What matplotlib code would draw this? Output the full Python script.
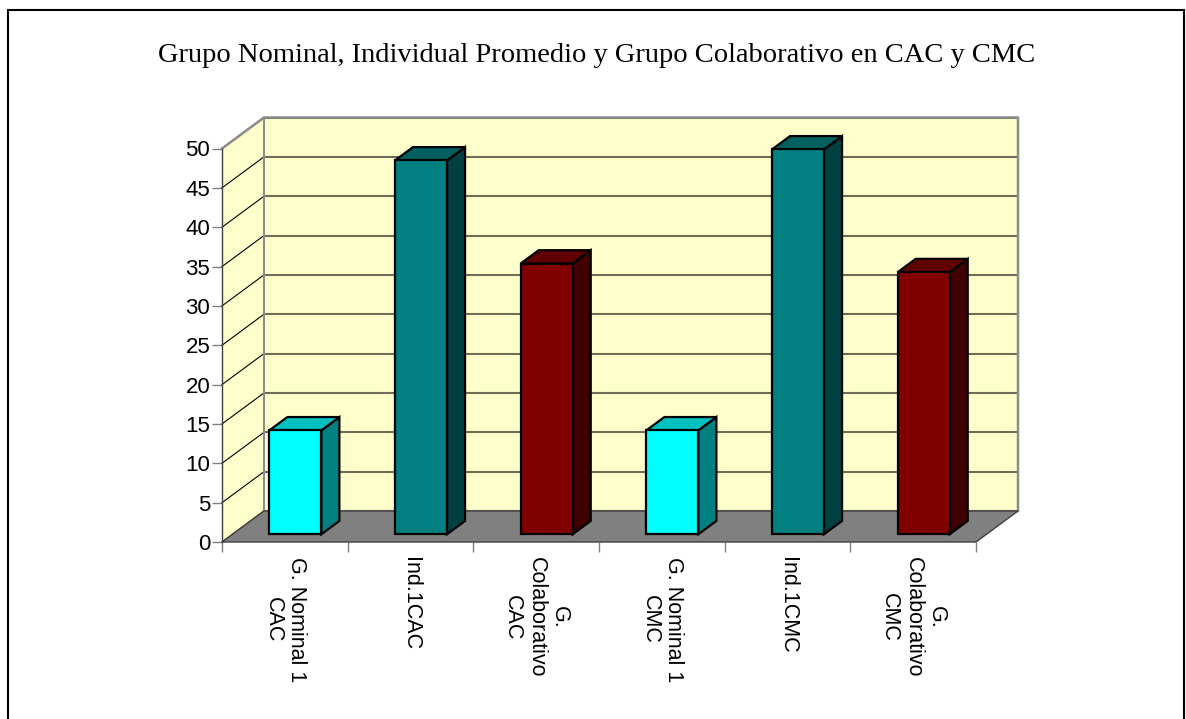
import numpy as np
import matplotlib.pyplot as plt
from matplotlib.patches import Polygon, Rectangle

# datos del grafico
categorias = ['G. Nominal 1\nCAC', 'Ind.1CAC', 'G.\nColaborativo\nCAC',
              'G. Nominal 1\nCMC', 'Ind.1CMC', 'G.\nColaborativo\nCMC']
valores = [13.2, 47.5, 34.4, 13.2, 48.9, 33.3]
titulo = 'Grupo Nominal, Individual Promedio y Grupo Colaborativo en CAC y CMC'
yticks = list(range(0, 51, 5))

# colores de las barras: frente, arriba, lado
col_frente = ['#00FFFF', '#008080', '#800000', '#00FFFF', '#008080', '#800000']
col_arriba = ['#00C0C0', '#006060', '#600000', '#00C0C0', '#006060', '#600000']
col_lado = ['#008080', '#004040', '#400000', '#008080', '#004040', '#400000']

W, H = 1186, 719
fig = plt.figure(figsize=(W / 100, H / 100), dpi=100)

# ejes = plano frontal del grafico 3D
x_izq, x_der, y_cero, y_top = 222, 976, 542, 148.5
ax = fig.add_axes([x_izq / W, 1 - y_cero / H, (x_der - x_izq) / W, (y_cero - y_top) / H])
n = len(categorias)
ax.set_xlim(0, n)
ax.set_ylim(0, 50)

px_cat = (x_der - x_izq) / n
px_val = (y_cero - y_top) / 50
DX = 42 / px_cat   # profundidad en unidades de categoria
DY = 31 / px_val   # profundidad en unidades de valor

# paredes
pared = '#FFFFCC'
ax.add_patch(Polygon([(0, 0), (0, 50), (DX, 50 + DY), (DX, DY)], closed=True,
                     fc=pared, ec='none', clip_on=False, zorder=1))
ax.add_patch(Polygon([(DX, DY), (n + DX, DY), (n + DX, 50 + DY), (DX, 50 + DY)], closed=True,
                     fc=pared, ec='none', clip_on=False, zorder=1))

# lineas de cuadricula
for v in yticks:
    ax.plot([DX, n + DX], [v + DY, v + DY], color='#6e6e58', lw=1.5, clip_on=False, zorder=2)
    ax.plot([0, DX], [v, v + DY], color='black', lw=0.8, clip_on=False, zorder=2)

# bordes de las paredes
ax.plot([0, DX, n + DX, n + DX], [50, 50 + DY, 50 + DY, DY], color='#8c8c8c', lw=1.8,
        clip_on=False, zorder=2)
ax.plot([DX, DX], [DY, 50 + DY], color='#8c8c8c', lw=1.5, clip_on=False, zorder=2)

# piso
ax.add_patch(Polygon([(0, 0), (n, 0), (n + DX, DY), (DX, DY)], closed=True,
                     fc='#808080', ec='#404040', lw=1, clip_on=False, zorder=3))

# barras 3D
f0, fd = 0.25, 0.43
ancho = 52 / px_cat
for i, v in enumerate(valores):
    x0 = i + 0.5 - ancho / 2 + f0 * DX
    x1 = x0 + ancho
    yb = f0 * DY
    yt = v + f0 * DY
    ddx, ddy = fd * DX, fd * DY
    frente = [(x0, yb), (x1, yb), (x1, yt), (x0, yt)]
    arriba = [(x0, yt), (x1, yt), (x1 + ddx, yt + ddy), (x0 + ddx, yt + ddy)]
    lado = [(x1, yb), (x1 + ddx, yb + ddy), (x1 + ddx, yt + ddy), (x1, yt)]
    for pts, c in [(lado, col_lado[i]), (arriba, col_arriba[i]), (frente, col_frente[i])]:
        ax.add_patch(Polygon(pts, closed=True, fc=c, ec='black', lw=1.6,
                             joinstyle='miter', clip_on=False, zorder=4 + i))

# ejes
for s in ['top', 'right', 'bottom']:
    ax.spines[s].set_visible(False)
ax.spines['left'].set_color('#404040')
ax.spines['left'].set_linewidth(1)
ax.spines['left'].set_zorder(3)
ax.set_yticks(yticks)
ax.tick_params(axis='y', length=7, width=1, color='#808080', pad=1.5, labelsize=16)
ax.set_xticks(range(n + 1))
ax.set_xticklabels([''] * (n + 1))
ax.tick_params(axis='x', which='major', length=7, width=1, color='#808080')
ax.set_xticks(np.arange(n) + 0.5, categorias, minor=True)
ax.tick_params(axis='x', which='minor', length=0, pad=11, labelsize=15.5)
for lab in ax.get_xticklabels(minor=True):
    lab.set_rotation(-90)
    lab.set_multialignment('center')
    lab.set_linespacing(1.15)
    lab.set_family('Liberation Sans')
    lab.set_va('top')
    lab.set_ha('center')
for lab in ax.get_yticklabels():
    lab.set_family('Liberation Sans')
ax.set_facecolor('none')

# titulo
fig.text(597 / W, 1 - 55 / H, titulo, ha='center', va='center', fontsize=20.5,
         family='Liberation Serif')

# marco del grafico
fig.patches.append(Rectangle((8 / W, -0.05), (1184 - 8) / W, 1 - 10 / H + 0.05,
                             transform=fig.transFigure, fill=False, ec='black', lw=1.5))

fig.savefig('out.png', dpi=100)
